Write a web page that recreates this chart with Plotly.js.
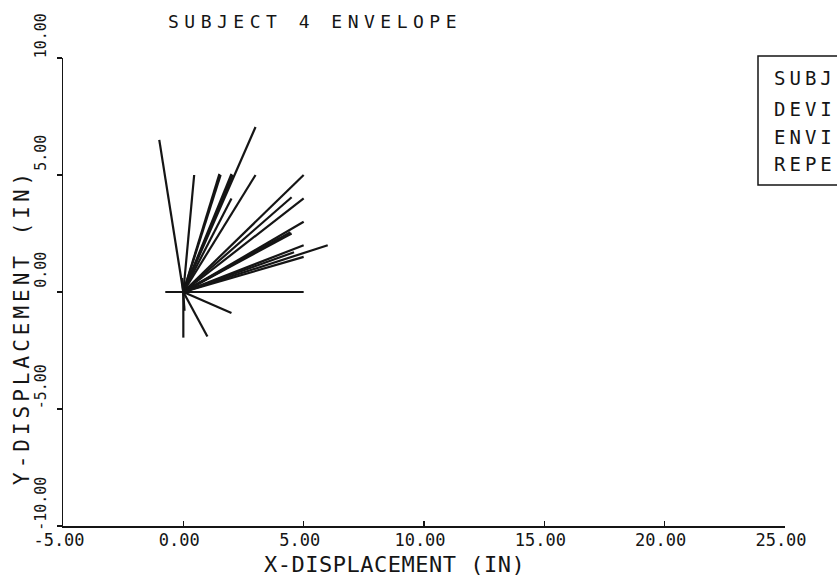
<!DOCTYPE html>
<html>
<head>
<meta charset="utf-8">
<script src="https://cdn.plot.ly/plotly-3.0.1.min.js"></script>
<style>
  html, body { margin: 0; padding: 0; background: #ffffff; }
  #chart { width: 837px; height: 581px; }
</style>
</head>
<body>
<div id="chart"></div>
<script>
// ---- data ----
var startX = [0, 0, 0, 0, 0, 0, 0, 0, 0, 0, 0, 0, 0, 0, 0, 0, 0, 0, 0, 0, -0.75, 0, 0, 0, -0.05];
var startY = [0, 0, 0, 0, 0, 0, 0, 0, 0, 0, 0, 0, 0, 0, 0, 0, 0, 0, 0, 0, 0, 0, 0, 0, 0.6];
var endX   = [-1.0, 0.45, 1.5, 1.55, 2.0, 2.05, 3.0, 2.0, 3.0, 5.0, 4.5, 5.0, 5.0, 4.5, 4.45, 4.0, 5.0, 6.0, 5.0, 4.6, 5.0, 2.0, 1.0, 0.0, 0.05];
var endY   = [6.5, 5.0, 5.05, 5.0, 5.05, 5.0, 7.05, 4.0, 5.0, 5.0, 4.05, 4.0, 3.0, 2.5, 2.55, 2.3, 2.0, 2.0, 1.5, 1.7, 0.0, -0.9, -1.9, -1.95, -0.8];

var xTickVals = [-5, 0, 5, 10, 15, 20, 25];
var xTickText = ['-5.00', '0.00', '5.00', '10.00', '15.00', '20.00', '25.00'];
var yTickVals = [-10, -5, 0, 5, 10];
var yTickText = ['-10.00', '-5.00', '0.00', '5.00', '10.00'];

var titleText = 'SUBJECT 4 ENVELOPE';
var xTitleText = 'X-DISPLACEMENT (IN)';
var yTitleText = 'Y-DISPLACEMENT (IN)';
var boxLines = ['SUBJ', 'DEVI', 'ENVI', 'REPE'];

// ---- build segment trace ----
var segX = [], segY = [];
for (var i = 0; i < startX.length; i++) {
  segX.push(startX[i], endX[i], null);
  segY.push(startY[i], endY[i], null);
}

var FONT = 'DejaVu Sans Mono, monospace';
var INK = '#151515';

var traces = [{
  type: 'scatter',
  mode: 'lines',
  x: segX,
  y: segY,
  line: { color: INK, width: 2.2 },
  hoverinfo: 'skip',
  showlegend: false
}];

function spaced(t, px) {
  return '<span style="letter-spacing:' + px + 'px">' + t + '</span>';
}

var annotations = [];
// axis titles
annotations.push({
  xref: 'paper', yref: 'paper', x: 0.2756, y: -0.0833,
  xanchor: 'left', yanchor: 'middle', showarrow: false,
  text: spaced(xTitleText, 0.5), font: { family: FONT, size: 22, color: INK }
});
annotations.push({
  xref: 'paper', yref: 'paper', x: -0.0568, y: 0.0833,
  xanchor: 'center', yanchor: 'bottom', showarrow: false, textangle: -90,
  text: spaced(yTitleText, 4), font: { family: FONT, size: 21, color: INK }
});
// box text lines
var boxY = [0.957, 0.891, 0.831, 0.7735];
for (var j = 0; j < boxLines.length; j++) {
  annotations.push({
    xref: 'paper', yref: 'paper', x: 0.982, y: boxY[j],
    xanchor: 'left', yanchor: 'middle', showarrow: false,
    text: spaced(boxLines[j], 4), font: { family: FONT, size: 19, color: INK }
  });
}

var layout = {
  width: 837,
  height: 581,
  margin: { l: 63, r: 52, t: 58, b: 55, pad: 0 },
  paper_bgcolor: '#ffffff',
  plot_bgcolor: '#ffffff',
  showlegend: false,
  title: {
    text: spaced(titleText, 5.5),
    font: { family: FONT, size: 18, color: INK },
    xref: 'paper', x: 0.1454, xanchor: 'left',
    yref: 'container', y: 0.963, yanchor: 'middle'
  },
  xaxis: {
    range: [-5, 25],
    tickvals: xTickVals,
    ticktext: xTickText,
    ticks: 'inside', ticklen: 5, tickwidth: 1.5, tickcolor: INK,
    showline: true, linecolor: INK, linewidth: 1.5,
    showgrid: false, zeroline: false,
    tickfont: { family: FONT, size: 17, color: INK },
    ticklabelshift: -4,
    ticklabelstandoff: -2,
    fixedrange: true
  },
  yaxis: {
    range: [-10, 10],
    tickvals: yTickVals,
    ticktext: yTickText,
    ticks: 'outside', ticklen: 5, tickwidth: 1.5, tickcolor: INK,
    showline: true, linecolor: INK, linewidth: 1.5,
    showgrid: false, zeroline: false,
    tickangle: -90,
    tickfont: { family: FONT, size: 15, color: INK },
    ticklabelshift: -20,
    ticklabelstandoff: 5,
    fixedrange: true
  },
  shapes: [{
    type: 'rect', xref: 'paper', yref: 'paper',
    x0: 0.9626, x1: 1.11, y0: 0.7286, y1: 1.0043,
    line: { color: INK, width: 1.5 }, fillcolor: 'rgba(0,0,0,0)'
  }],
  annotations: annotations
};

Plotly.newPlot('chart', traces, layout, { staticPlot: true, displayModeBar: false });
</script>
</body>
</html>
